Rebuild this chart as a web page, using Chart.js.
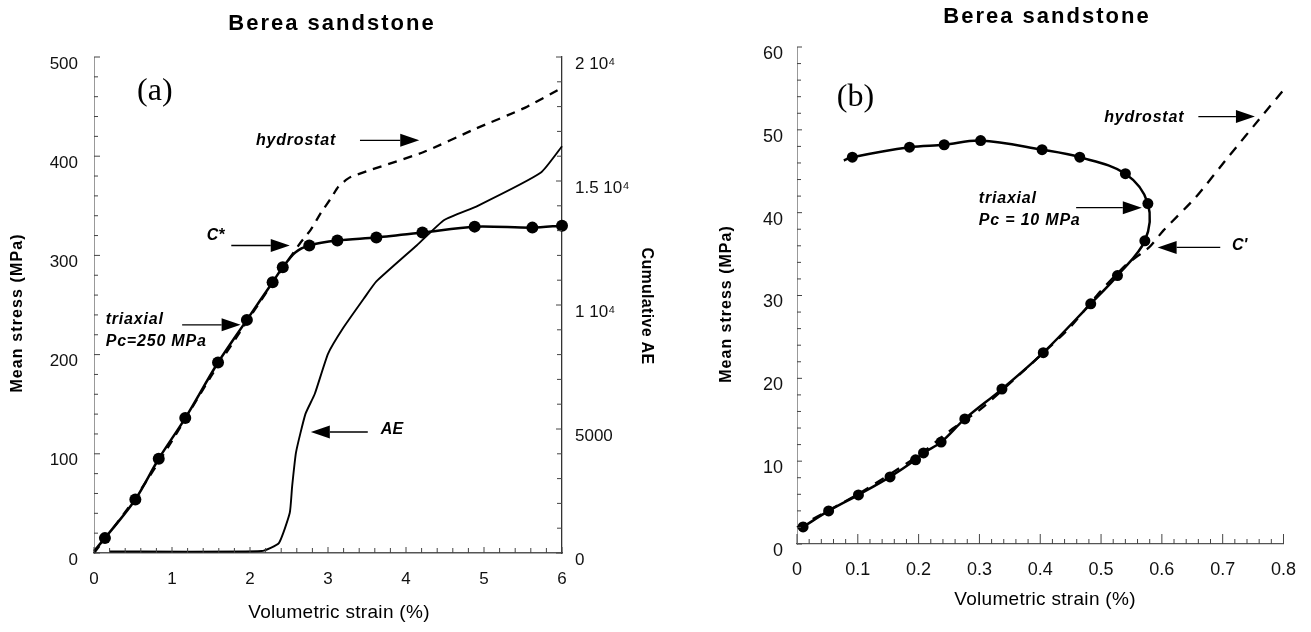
<!DOCTYPE html>
<html>
<head>
<meta charset="utf-8">
<script src="https://cdn.jsdelivr.net/npm/chart.js@4.4.1/dist/chart.umd.min.js"></script>
<style>
  html, body { margin: 0; padding: 0; background: #fff; }
  #wrap { position: relative; width: 1311px; height: 632px; }
  #chartA { position: absolute; left: 0; top: 0; }
  #chartB { position: absolute; left: 655px; top: 0; }
</style>
</head>
<body>
<div id="wrap">
  <canvas id="chartA" width="655" height="632"></canvas>
  <canvas id="chartB" width="656" height="632"></canvas>
</div>
<script>
// ---------- panel (a): triaxial Pc = 250 MPa, hydrostat, cumulative AE ----------
const triaxialStrainA = [0.0, 0.14, 0.53, 0.83, 1.17, 1.59, 1.96, 2.29, 2.42, 2.58, 2.76, 3.12, 3.62, 4.21, 4.88, 5.62, 6.0];
const triaxialStressA = [2, 15, 54, 95, 136, 192, 235, 273, 288, 303, 310, 315, 318, 323, 329, 328, 330];
const triaxialDotA    = [0, 1, 1, 1, 1, 1, 1, 1, 1, 0, 1, 1, 1, 1, 1, 1, 1];

const hydroStrainA = [0, 0.5, 1.0, 1.5, 2.0, 2.4, 2.64, 2.78, 2.91, 3.05, 3.13, 3.29, 4.22, 4.9, 5.53, 6.0];
const hydroStressA = [0, 52, 113, 178, 238, 285, 312, 326, 343, 359, 369, 379, 404, 428, 449, 469];

const aeStrain = [0.2, 2.15, 2.37, 2.51, 2.54, 2.59, 2.71, 2.83, 3.0, 3.19, 3.46, 3.62, 4.14, 4.49, 4.92, 5.73, 6.0];
const aeCount  = [60, 80, 400, 1620, 2680, 4060, 5600, 6410, 8030, 9050, 10260, 10950, 12410, 13430, 14000, 15340, 16400];

const aeTickValues = [0, 5000, 10000, 15000, 20000];
const aeTickLabels = ['0', '5000', '1 10\u2074', '1.5 10\u2074', '2 10\u2074'];

// ---------- panel (b): triaxial Pc = 10 MPa, hydrostat ----------
const triaxialStrainB = [0.010, 0.052, 0.101, 0.153, 0.195, 0.208, 0.237, 0.276, 0.337, 0.405, 0.483, 0.527, 0.572, 0.577, 0.540, 0.465, 0.403, 0.302, 0.242, 0.185, 0.091, 0.077];
const triaxialStressB = [2.06, 3.99, 5.93, 8.10, 10.16, 11.0, 12.3, 15.1, 18.7, 23.1, 29.0, 32.4, 36.6, 41.1, 44.7, 46.7, 47.6, 48.7, 48.2, 47.9, 46.7, 46.3];
const triaxialDotB    = [1, 1, 1, 1, 1, 1, 1, 1, 1, 1, 1, 1, 1, 1, 1, 1, 1, 1, 1, 1, 1, 0];

const hydroStrainB = [0.0, 0.1, 0.2, 0.25, 0.304, 0.395, 0.447, 0.5, 0.541, 0.579, 0.602, 0.655, 0.709, 0.766, 0.8];
const hydroStressB = [2, 6, 10.7, 13.6, 16.4, 22.4, 26.0, 30.6, 33.7, 35.8, 37.8, 41.8, 46.7, 51.8, 54.8];

const SANS = "'Liberation Sans', Arial, sans-serif";
const SERIF = "'Liberation Serif', 'Times New Roman', serif";

const toPoints = (xs, ys) => xs.map((x, i) => ({ x: x, y: ys[i] }));

function drawText(ctx, text, x, y, font, o) {
    o = o || {};
    ctx.save();
    ctx.font = font;
    ctx.fillStyle = '#000';
    ctx.textAlign = o.align || 'center';
    ctx.textBaseline = 'middle';
    if ('letterSpacing' in ctx) ctx.letterSpacing = (o.spacing || 0) + 'px';
    ctx.translate(x, y);
    if (o.rotate) ctx.rotate(o.rotate);
    ctx.fillText(text, 0, 0);
    ctx.restore();
}

function drawArrow(ctx, x1, y1, x2, y2) {
    const head = 19, half = 6.5;
    const dir = Math.sign(x2 - x1);
    ctx.save();
    ctx.strokeStyle = '#000';
    ctx.fillStyle = '#000';
    ctx.lineWidth = 1.3;
    ctx.beginPath();
    ctx.moveTo(x1, y1);
    ctx.lineTo(x2 - dir * head, y2);
    ctx.stroke();
    ctx.beginPath();
    ctx.moveTo(x2, y2);
    ctx.lineTo(x2 - dir * head, y2 - half);
    ctx.lineTo(x2 - dir * head, y2 + half);
    ctx.closePath();
    ctx.fill();
    ctx.restore();
}

// inward tick marks like the original plot
const innerTicks = {
    id: 'innerTicks',
    afterDraw(chart, args, opts) {
        const ctx = chart.ctx;
        ctx.save();
        ctx.strokeStyle = '#444';
        ctx.lineWidth = 1;
        opts.axes.forEach(a => {
            const s = chart.scales[a.id];
            const n = Math.round((s.max - s.min) / a.step);
            for (let i = 0; i <= n; i++) {
                const v = s.min + i * a.step;
                const r = v / a.major;
                const len = Math.abs(r - Math.round(r)) < 1e-6 ? a.majorLen : a.minorLen;
                const p = s.getPixelForValue(v);
                ctx.beginPath();
                if (s.position === 'bottom') { ctx.moveTo(p, s.top); ctx.lineTo(p, s.top - len); }
                else if (s.position === 'left') { ctx.moveTo(s.right, p); ctx.lineTo(s.right + len, p); }
                else { ctx.moveTo(s.left, p); ctx.lineTo(s.left - len, p); }
                ctx.stroke();
            }
        });
        ctx.restore();
    }
};

// titles, axis titles, panel letters and the arrow notes
const paperText = {
    id: 'paperText',
    afterDraw(chart, args, opts) {
        const ctx = chart.ctx;
        const sx = chart.scales.x, sy = chart.scales.y;
        opts.labels.forEach(l => drawText(ctx, l.text, l.px, l.py, l.font, l));
        opts.notes.forEach(n => drawText(ctx, n.text, sx.getPixelForValue(n.x), sy.getPixelForValue(n.y), n.font, n));
        opts.arrows.forEach(a => drawArrow(ctx,
            sx.getPixelForValue(a.from[0]), sy.getPixelForValue(a.from[1]),
            sx.getPixelForValue(a.to[0]), sy.getPixelForValue(a.to[1])));
    }
};

const noteFont = 'italic bold 16px ' + SANS;

const notesA = [
    { text: '(a)', x: 0.78, y: 465, font: '32px ' + SERIF },
    { text: 'hydrostat', x: 2.59, y: 416, font: noteFont, spacing: 0.8 },
    { text: 'C*', x: 1.56, y: 320, font: noteFont },
    { text: 'triaxial', x: 0.15, y: 235, font: noteFont, align: 'left', spacing: 0.8 },
    { text: 'Pc=250 MPa', x: 0.15, y: 213, font: noteFont, align: 'left', spacing: 0.8 },
    { text: 'AE', x: 3.82, y: 124, font: noteFont }
];
const arrowsA = [
    { from: [3.41, 416], to: [4.17, 416] },
    { from: [1.76, 310], to: [2.51, 310] },
    { from: [1.13, 230], to: [1.88, 230] },
    { from: [3.51, 122], to: [2.78, 122] }
];

const notesB = [
    { text: '(b)', x: 0.096, y: 53.9, font: '32px ' + SERIF },
    { text: 'hydrostat', x: 0.571, y: 51.5, font: noteFont, spacing: 0.8 },
    { text: 'triaxial', x: 0.299, y: 41.7, font: noteFont, align: 'left', spacing: 0.8 },
    { text: 'Pc = 10 MPa', x: 0.299, y: 39.1, font: noteFont, align: 'left', spacing: 0.8 },
    { text: "C'", x: 0.728, y: 36.0, font: noteFont }
];
const arrowsB = [
    { from: [0.660, 51.6], to: [0.753, 51.6] },
    { from: [0.459, 40.6], to: [0.567, 40.6] },
    { from: [0.696, 35.8], to: [0.593, 35.8] }
];

const tickFontA = { family: SANS, size: 17 };
const tickFontB = { family: SANS, size: 18 };

// ---------- chart (a) ----------
new Chart(document.getElementById('chartA'), {
    type: 'scatter',
    data: {
        datasets: [{
            label: 'triaxial',
            data: toPoints(triaxialStrainA, triaxialStressA),
            showLine: true,
            borderColor: '#000',
            borderWidth: 2.5,
            tension: 0.3,
            pointRadius: triaxialDotA.map(d => d ? 6 : 0),
            pointBackgroundColor: '#000',
            pointBorderWidth: 0,
            clip: false
        }, {
            label: 'hydrostat',
            data: toPoints(hydroStrainA, hydroStressA),
            showLine: true,
            borderColor: '#000',
            borderWidth: 2.3,
            borderDash: [9, 7],
            tension: 0.2,
            pointRadius: 0,
            clip: false
        }, {
            label: 'AE',
            data: toPoints(aeStrain, aeCount),
            yAxisID: 'yAE',
            showLine: true,
            borderColor: '#000',
            borderWidth: 1.9,
            tension: 0.15,
            pointRadius: 0,
            clip: false
        }]
    },
    options: {
        responsive: false,
        animation: false,
        layout: { padding: { top: 57, left: 0, right: 0, bottom: 0 } },
        plugins: {
            legend: { display: false },
            tooltip: { enabled: false },
            innerTicks: {
                axes: [
                    { id: 'x', step: 0.2, major: 1, minorLen: 5, majorLen: 6 },
                    { id: 'y', step: 20, major: 100, minorLen: 4, majorLen: 6 },
                    { id: 'yAE', step: 1000, major: 5000, minorLen: 5, majorLen: 6 }
                ]
            },
            paperText: {
                labels: [
                    { text: 'Berea sandstone', px: 332, py: 24, font: 'bold 22px ' + SANS, spacing: 2 },
                    { text: 'Mean stress (MPa)', px: 18, py: 313, font: 'bold 16px ' + SANS, spacing: 1.1, rotate: -Math.PI / 2 },
                    { text: 'Cumulative AE', px: 646, py: 306, font: 'bold 16px ' + SANS, spacing: 0.3, rotate: Math.PI / 2 },
                    { text: 'Volumetric strain (%)', px: 339, py: 613, font: '19px ' + SANS, spacing: 0.3 }
                ],
                notes: notesA,
                arrows: arrowsA
            }
        },
        scales: {
            x: {
                type: 'linear', position: 'bottom', min: 0, max: 6,
                ticks: { stepSize: 1, font: tickFontA, color: '#111', padding: 16 },
                grid: { display: true, drawOnChartArea: false, drawTicks: false },
                border: { color: '#555', width: 1.5 },
                afterFit: s => { s.height = 79; }
            },
            y: {
                type: 'linear', position: 'left', min: 0, max: 500,
                ticks: { stepSize: 100, font: tickFontA, color: '#111', padding: 16, labelOffset: 7 },
                grid: { display: true, drawOnChartArea: false, drawTicks: false },
                border: { color: '#999', width: 1, dash: [2, 1] },
                afterFit: s => { s.width = 94; }
            },
            yAE: {
                type: 'linear', position: 'right', min: 0, max: 20000,
                ticks: {
                    stepSize: 5000, font: tickFontA, color: '#111', padding: 13, labelOffset: 7,
                    callback: v => { const i = aeTickValues.indexOf(v); return i >= 0 ? aeTickLabels[i] : ''; }
                },
                grid: { display: true, drawOnChartArea: false, drawTicks: false },
                border: { color: '#333', width: 1.3 },
                afterFit: s => { s.width = 93; }
            }
        }
    },
    plugins: [innerTicks, paperText]
});

// ---------- chart (b) ----------
new Chart(document.getElementById('chartB'), {
    type: 'scatter',
    data: {
        datasets: [{
            label: 'triaxial',
            data: toPoints(triaxialStrainB, triaxialStressB),
            showLine: true,
            borderColor: '#000',
            borderWidth: 2.5,
            tension: 0.35,
            pointRadius: triaxialDotB.map(d => d ? 5.5 : 0),
            pointBackgroundColor: '#000',
            pointBorderWidth: 0,
            clip: false
        }, {
            label: 'hydrostat',
            data: toPoints(hydroStrainB, hydroStressB),
            showLine: true,
            borderColor: '#000',
            borderWidth: 2.3,
            borderDash: [10, 8],
            tension: 0.2,
            pointRadius: 0,
            clip: false
        }]
    },
    options: {
        responsive: false,
        animation: false,
        layout: { padding: { top: 47, left: 0, right: 22, bottom: 0 } },
        plugins: {
            legend: { display: false },
            tooltip: { enabled: false },
            innerTicks: {
                axes: [
                    { id: 'x', step: 0.02, major: 0.1, minorLen: 5, majorLen: 10 },
                    { id: 'y', step: 2, major: 10, minorLen: 4, majorLen: 5 }
                ]
            },
            paperText: {
                labels: [
                    { text: 'Berea sandstone', px: 392, py: 17, font: 'bold 22px ' + SANS, spacing: 2 },
                    { text: 'Mean stress (MPa)', px: 72, py: 304, font: 'bold 16px ' + SANS, spacing: 1, rotate: -Math.PI / 2 },
                    { text: 'Volumetric strain (%)', px: 390, py: 600, font: '19px ' + SANS, spacing: 0.3 }
                ],
                notes: notesB,
                arrows: arrowsB
            }
        },
        scales: {
            x: {
                type: 'linear', position: 'bottom', min: 0, max: 0.8,
                ticks: { stepSize: 0.1, font: tickFontB, color: '#111', padding: 15 },
                grid: { display: true, drawOnChartArea: false, drawTicks: false },
                border: { color: '#555', width: 1.3 },
                afterFit: s => { s.height = 88; }
            },
            y: {
                type: 'linear', position: 'left', min: 0, max: 60,
                ticks: { stepSize: 10, font: tickFontB, color: '#111', padding: 14, labelOffset: 7 },
                grid: { display: true, drawOnChartArea: false, drawTicks: false },
                border: { color: '#999', width: 1, dash: [2, 1] },
                afterFit: s => { s.width = 142; }
            }
        }
    },
    plugins: [innerTicks, paperText]
});
</script>
</body>
</html>
